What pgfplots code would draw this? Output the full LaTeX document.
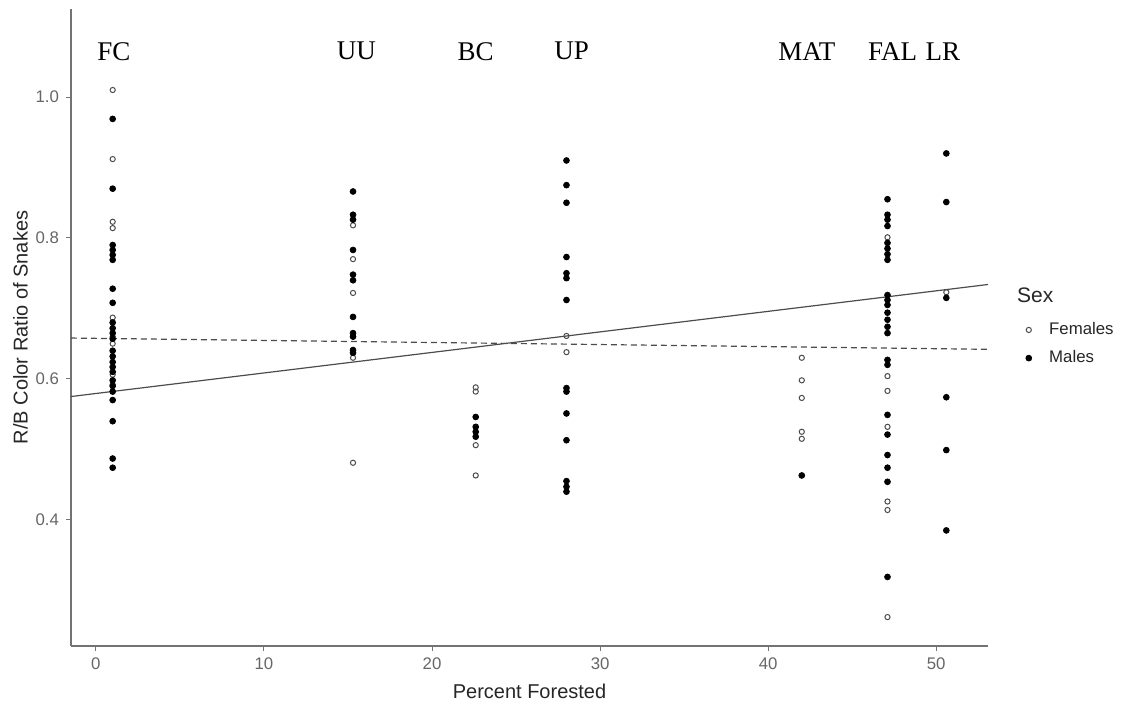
\documentclass[border=0pt]{standalone}
\usepackage{pgfplots}
\pgfplotsset{compat=1.18}
\usepackage{pgfplotstable}
\usepackage{fontspec}
\setmainfont{Liberation Sans}
\newfontfamily\seriffont{Liberation Serif}

\pgfplotstableread{
x y
1 1.010
1 0.912
1 0.823
1 0.814
1 0.687
1 0.660
1 0.650
1 0.606
1 0.592
15.3 0.818
15.3 0.770
15.3 0.722
15.3 0.630
15.3 0.481
22.6 0.588
22.6 0.582
22.6 0.506
22.6 0.463
28.0 0.661
28.0 0.638
42.0 0.630
42.0 0.598
42.0 0.573
42.0 0.525
42.0 0.515
47.1 0.801
47.1 0.604
47.1 0.583
47.1 0.532
47.1 0.426
47.1 0.414
47.1 0.262
50.6 0.723
}\females

\pgfplotstableread{
x y
1 0.969
1 0.870
1 0.790
1 0.783
1 0.776
1 0.769
1 0.728
1 0.708
1 0.680
1 0.672
1 0.665
1 0.657
1 0.640
1 0.632
1 0.624
1 0.617
1 0.610
1 0.598
1 0.590
1 0.582
1 0.570
1 0.540
1 0.487
1 0.474
15.3 0.866
15.3 0.833
15.3 0.826
15.3 0.783
15.3 0.748
15.3 0.740
15.3 0.688
15.3 0.665
15.3 0.660
15.3 0.641
15.3 0.637
22.6 0.546
22.6 0.532
22.6 0.525
22.6 0.518
28.0 0.910
28.0 0.875
28.0 0.850
28.0 0.773
28.0 0.750
28.0 0.743
28.0 0.712
28.0 0.587
28.0 0.582
28.0 0.551
28.0 0.513
28.0 0.455
28.0 0.447
28.0 0.440
42.0 0.463
47.1 0.855
47.1 0.833
47.1 0.826
47.1 0.817
47.1 0.793
47.1 0.785
47.1 0.777
47.1 0.769
47.1 0.719
47.1 0.712
47.1 0.705
47.1 0.694
47.1 0.684
47.1 0.674
47.1 0.665
47.1 0.627
47.1 0.620
47.1 0.549
47.1 0.521
47.1 0.492
47.1 0.474
47.1 0.454
47.1 0.319
50.6 0.920
50.6 0.851
50.6 0.715
50.6 0.574
50.6 0.499
50.6 0.385
}\males

\begin{document}
\begin{tikzpicture}
\path[use as bounding box] (0pt,0pt) rectangle (563pt,352pt);
\begin{axis}[
  at={(35.5pt,29pt)}, anchor=south west,
  scale only axis, width=458.5pt, height=318.5pt,
  xmin=-1.48, xmax=53.08, ymin=0.221, ymax=1.125,
  axis lines*=left,
  axis line style={black!55, line width=0.6pt},
  tick style={black!55, line width=0.5pt},
  tick align=outside, major tick length=2.5pt,
  xtick={0,10,20,30,40,50}, ytick={0.4,0.6,0.8,1.0},
  yticklabel style={/pgf/number format/.cd, fixed, fixed zerofill, precision=1},
  /pgf/number format/assume math mode=true,
  ticklabel style={font=\fontsize{8.4}{10}\selectfont, text=black!60},
  xlabel={Percent Forested}, ylabel={R/B Color Ratio of Snakes},
  label style={font=\fontsize{10}{12}\selectfont, text=black!85},
  ylabel style={yshift=-3pt},
  clip=false,
  legend image code/.code={\draw[#1] plot coordinates {(0pt,0pt)}; \path (-2pt,0pt) (8pt,0pt);},
  legend style={draw=none, fill=none, at={(axis description cs:1.0327,0.474)}, anchor=west,
    font=\fontsize{8.4}{10}\selectfont, row sep=2.5pt, text=black!85},
  legend cell align=left,
]
\addplot[only marks, mark=o, mark size=1.3pt, black!70, mark options={line width=0.5pt}] table {\females};
\addlegendentry{Females}
\addplot[only marks, mark=*, mark size=1.45pt, black] table {\males};
\addlegendentry{Males}
\addplot[forget plot, black!70, line width=0.6pt] coordinates {(-1.48,0.575) (53.08,0.734)};
\addplot[forget plot, black!70, line width=0.6pt, dash pattern=on 3pt off 2pt] coordinates {(-1.48,0.658) (53.08,0.642)};

\begin{scope}[every node/.style={font=\seriffont\fontsize{13.5}{15}\selectfont}]
\node at (axis cs:1.07,1.065) {FC};
\node at (axis cs:15.5,1.065) {UU};
\node at (axis cs:22.6,1.065) {BC};
\node at (axis cs:28.3,1.065) {UP};
\node at (axis cs:42.3,1.065) {MAT};
\node at (axis cs:47.4,1.065) {FAL};
\node at (axis cs:50.4,1.065) {LR};
\end{scope}
\node[anchor=west, font=\fontsize{10.5}{12}\selectfont, text=black!85] at (axis description cs:1.024,0.551) {Sex};
\end{axis}
\end{tikzpicture}
\end{document}
